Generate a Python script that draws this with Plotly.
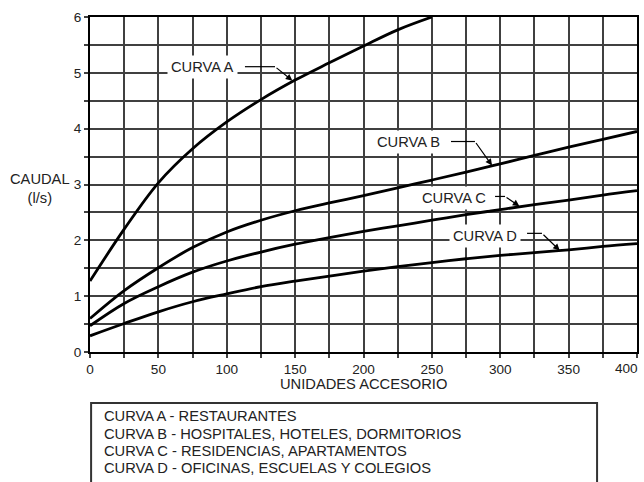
import plotly.graph_objects as go

# ---- data ----
x_a = [0, 25, 50, 75, 100, 125, 150, 175, 200, 225, 250]
curva_a = [1.27, 2.2, 3.03, 3.64, 4.12, 4.52, 4.87, 5.18, 5.48, 5.77, 6.0]

x_bcd = [0, 25, 50, 75, 100, 125, 150, 175, 200, 225, 250, 275, 300, 325, 350, 375, 400]
curva_b = [0.6, 1.1, 1.51, 1.87, 2.15, 2.36, 2.53, 2.67, 2.8, 2.94, 3.08, 3.22, 3.37, 3.52, 3.67, 3.81, 3.95]
curva_c = [0.47, 0.87, 1.17, 1.43, 1.63, 1.79, 1.93, 2.05, 2.16, 2.26, 2.36, 2.46, 2.55, 2.64, 2.72, 2.81, 2.89]
curva_d = [0.29, 0.51, 0.72, 0.9, 1.04, 1.17, 1.27, 1.36, 1.45, 1.53, 1.6, 1.67, 1.73, 1.78, 1.83, 1.89, 1.94]

x_tickvals = [0, 50, 100, 150, 200, 250, 300, 350]
x_last_tick = 400
labels = ["CURVA A", "CURVA B", "CURVA C", "CURVA D"]
legend_lines = [
    "CURVA A - RESTAURANTES",
    "CURVA B - HOSPITALES, HOTELES, DORMITORIOS",
    "CURVA C - RESIDENCIAS, APARTAMENTOS",
    "CURVA D - OFICINAS, ESCUELAS Y COLEGIOS",
]
x_title = "UNIDADES ACCESORIO"
y_title = "CAUDAL<br>(l/s)"

FONT = "Liberation Sans, Arial, sans-serif"
TXT = "#222222"
GRID = "#404040"
TFS = 14.7   # text font size
KFS = 13.6   # tick font size

fig = go.Figure()
for xs, ys in [(x_a, curva_a), (x_bcd, curva_b), (x_bcd, curva_c), (x_bcd, curva_d)]:
    fig.add_trace(go.Scatter(x=xs, y=ys, mode="lines",
                             line=dict(color="black", width=2.8, shape="spline", smoothing=1.0),
                             showlegend=False, hoverinfo="skip", cliponaxis=True))

# label placements: (text centre x, y, elbow start x, elbow end x, elbow y, tip x, tip y)
placements = [
    (82.6, 5.11, 113.3, 135.3, 5.11, 148.0, 4.86),
    (232.9, 3.755, 264.0, 281.5, 3.77, 294.0, 3.34),
    (266.0, 2.754, 296.2, 303.5, 2.786, 314.0, 2.61),
    (289.2, 2.08, 319.6, 330.5, 2.125, 343.5, 1.82),
]
annotations = []
shapes = []
for lab, (tx, ty, hx0, hx1, hy, px, py) in zip(labels, placements):
    annotations.append(dict(x=tx, y=ty, xref="x", yref="y", text=lab, showarrow=False,
                            font=dict(family=FONT, size=TFS, color=TXT),
                            bgcolor="white", borderpad=3))
    shapes.append(dict(type="line", xref="x", yref="y", x0=hx0, x1=hx1, y0=hy, y1=hy,
                       line=dict(color="black", width=1.2)))
    annotations.append(dict(x=px, y=py, xref="x", yref="y", ax=hx1, ay=hy,
                            axref="x", ayref="y", text="", showarrow=True,
                            arrowhead=2, arrowsize=1.1, arrowwidth=1.2, arrowcolor="black"))

# last x tick label, kept inside the page (right-aligned as in the reference)
annotations.append(dict(x=x_last_tick, y=-0.048, xref="x", yref="paper", text=str(x_last_tick),
                        showarrow=False, xanchor="right", yanchor="middle", xshift=3,
                        font=dict(family=FONT, size=KFS, color=TXT)))

# axis titles
annotations.append(dict(x=0.5, y=-0.0955, xref="paper", yref="paper", text=x_title,
                        showarrow=False, xanchor="center", yanchor="middle",
                        font=dict(family=FONT, size=TFS, color=TXT)))
annotations.append(dict(x=-0.0914, y=0.487, xref="paper", yref="paper", text=y_title,
                        showarrow=False, xanchor="center", yanchor="middle",
                        font=dict(family=FONT, size=TFS, color=TXT)))

# legend box and lines
shapes.append(dict(type="rect", xref="paper", yref="paper", x0=0.002, x1=0.927,
                   y0=-0.152, y1=-0.6, line=dict(color="#333333", width=2),
                   fillcolor="rgba(0,0,0,0)"))
legend_y = [-0.1925, -0.2433, -0.2955, -0.3463]
for txt, ly in zip(legend_lines, legend_y):
    annotations.append(dict(x=0.022, y=ly, xref="paper", yref="paper", text=txt,
                            showarrow=False, xanchor="left", yanchor="middle",
                            font=dict(family=FONT, size=TFS, color=TXT)))

axis_common = dict(showline=True, linecolor="black", linewidth=2, mirror=True,
                   showgrid=True, gridcolor=GRID, gridwidth=1.5, zeroline=False,
                   ticks="outside", ticklen=4, tickcolor=GRID, tickwidth=1.5,
                   automargin=False,
                   tickfont=dict(family=FONT, size=KFS, color=TXT))

fig.update_xaxes(range=[0, 400], tickmode="array", tickvals=x_tickvals + [x_last_tick],
                 ticktext=[str(v) for v in x_tickvals] + [""],
                 minor=dict(dtick=25, tick0=0, showgrid=True, gridcolor=GRID, gridwidth=1.5,
                            ticks="outside", ticklen=4, tickcolor=GRID, tickwidth=1.5),
                 **axis_common)
fig.update_yaxes(range=[0, 6], dtick=1, tick0=0,
                 minor=dict(dtick=0.5, showgrid=True, gridcolor=GRID, gridwidth=1.5,
                            ticks="outside", ticklen=4, tickcolor=GRID, tickwidth=1.5),
                 **axis_common)

fig.update_layout(width=644, height=482, margin=dict(l=90, r=7, t=17, b=130, autoexpand=False),
                  paper_bgcolor="white", plot_bgcolor="white",
                  annotations=annotations, shapes=shapes,
                  font=dict(family=FONT, size=TFS, color=TXT))

fig.write_html("out.html", config={"displayModeBar": False},
               post_script="document.body.style.margin='0';document.body.style.padding='0';")
